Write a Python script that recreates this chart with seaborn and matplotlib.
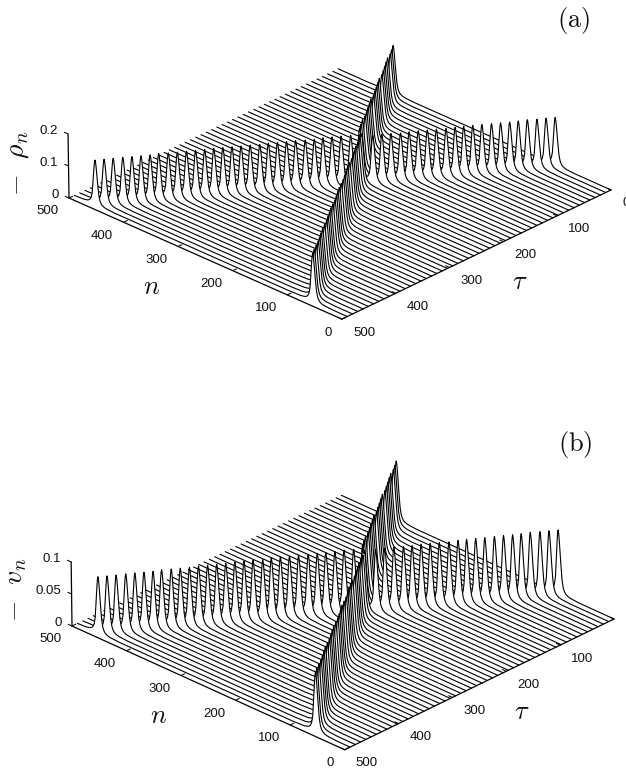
import numpy as np
import pandas as pd
import seaborn as sns
import matplotlib
matplotlib.use("Agg")
import matplotlib.pyplot as plt
from mpl_toolkits.mplot3d import proj3d
from mpl_toolkits.mplot3d.art3d import Poly3DCollection

# ---- values ----
tau_values = [0, 9.8, 19.6, 29.4, 39.2, 49, 58.8, 68.6, 78.4, 88.2, 98, 107.8, 117.6, 127.4,
              137.2, 147, 156.8, 166.6, 176.4, 186.2, 196, 205.8, 215.6, 225.4, 235.2, 245,
              254.8, 264.6, 274.4, 284.2, 294, 303.8, 313.6, 323.4, 333.2, 343, 352.8, 362.6,
              372.4, 382.2, 392, 401.8, 411.6, 421.4, 431.2, 441, 450.8, 460.6, 470.4, 480.2,
              490]
rising_centre = [101, 108, 115, 123, 130, 136, 143, 150, 158, 165, 172, 178, 185, 193, 200,
                 207, 214, 220, 228, 235, 242, 256, 263, 271, 278, 285, 291, 298, 306, 313,
                 320, 327, 333, 341, 348, 355, 362, 369, 376, 383, 390, 397, 404, 412, 418,
                 425, 432, 439, 447, 454, 461]
falling_centre = [398, 391, 384, 379, 372, 365, 358, 351, 346, 339, 332, 325, 318, 313, 306,
                  299, 292, 285, 280, 273, 266, 253, 246, 240, 234, 227, 220, 213, 207, 201,
                  194, 187, 180, 174, 168, 161, 154, 147, 141, 135, 128, 121, 114, 108, 102,
                  95, 88, 81, 75, 69, 62]
pulse_offset = [-40, -22, -16, -12, -10, -8, -6, -5, -4, -3, -2, -1, 0,
                1, 2, 3, 4, 5, 6, 8, 10, 12, 16, 22, 40]
pulse_shape = [0.0, 0.01, 0.025, 0.05, 0.08, 0.13, 0.25, 0.38, 0.52, 0.68, 0.83, 0.95, 1.0,
               0.95, 0.83, 0.68, 0.52, 0.38, 0.25, 0.13, 0.08, 0.05, 0.025, 0.01, 0.0]
rho_peak_falling = 0.150
rho_peak_rising = [0.150, 0.150, 0.150, 0.150, 0.149, 0.149, 0.149, 0.149, 0.148, 0.148, 0.148,
                   0.148, 0.147, 0.147, 0.147, 0.147, 0.146, 0.146, 0.146, 0.146, 0.145, 0.145,
                   0.145, 0.145, 0.145, 0.145, 0.144, 0.144, 0.144, 0.144, 0.144, 0.144, 0.143,
                   0.143, 0.143, 0.143, 0.143, 0.143, 0.142, 0.142, 0.142, 0.142, 0.142, 0.142,
                   0.141, 0.141, 0.141, 0.141, 0.140, 0.140, 0.140]
v_peak_falling = 0.093
v_peak_rising = [0.100, 0.100, 0.100, 0.100, 0.099, 0.099, 0.099, 0.099, 0.098, 0.098, 0.098,
                 0.098, 0.097, 0.097, 0.097, 0.097, 0.096, 0.096, 0.096, 0.096, 0.095, 0.095,
                 0.095, 0.095, 0.094, 0.094, 0.094, 0.094, 0.093, 0.093, 0.093, 0.093, 0.092,
                 0.092, 0.092, 0.092, 0.091, 0.091, 0.091, 0.091, 0.090, 0.090, 0.090, 0.090,
                 0.089, 0.089, 0.089, 0.089, 0.088, 0.088, 0.088]
n_ticks = [0, 100, 200, 300, 400, 500]
tau_ticks = [0, 100, 200, 300, 400, 500]
rho_ticks = [0, 0.1, 0.2]
rho_tick_labels = ["0", "0.1", "0.2"]
v_ticks = [0, 0.05, 0.1]
v_tick_labels = ["0", "0.05", "0.1"]

# ---- style ----
sns.set_theme(style="white")
plt.rcParams["font.family"] = ["Liberation Sans", "DejaVu Sans"]
plt.rcParams["mathtext.fontset"] = "cm"
W, H = 626, 770
fig = plt.figure(figsize=(W / 100, H / 100), dpi=100, facecolor="white")
INK = "#111111"


def slices(peak_rise, peak_fall):
    n = np.arange(0, 501)
    rows = []
    for i, t in enumerate(tau_values):
        a = np.interp(n, np.array(pulse_offset) + rising_centre[i], pulse_shape) * peak_rise[i]
        b = np.interp(n, np.array(pulse_offset) + falling_centre[i], pulse_shape) * peak_fall
        rows.append(pd.DataFrame({"n": n, "tau": t, "z": np.maximum(a, b)}))
    return pd.concat(rows)


def corner_px(ax, x, y, z):
    xs, ys, _ = proj3d.proj_transform(x, y, z, ax.get_proj())
    return ax.transData.transform((xs, ys))


def panel(table, zmax, zticks, zlabels, elev, roll, zpx, left_px, right_px, nlab, taulab, zlab,
          tag, tag_xy):
    ax = fig.add_axes([0, 0, 626 / W, 626 / H], projection="3d", proj_type="ortho",
                      computed_zorder=False)
    ax.patch.set_visible(False)
    ax.view_init(elev=elev, azim=135, roll=roll)
    ax.set_xlim(0, 500)
    ax.set_ylim(0, 500)
    ax.set_zlim(0, zmax)
    aspect = (1, 1, zpx / np.cos(np.radians(elev)) / (542 / np.sqrt(2)))
    ax.set_box_aspect(aspect, zoom=1)
    ax.grid(False)
    for axis in (ax.xaxis, ax.yaxis, ax.zaxis):
        axis.pane.set_visible(False)
        axis.line.set_color("black")
        axis.line.set_linewidth(0.9)
        axis._axinfo["axisline"]["color"] = "black"
        axis._axinfo["axisline"]["linewidth"] = 0.9
        axis._axinfo["tick"]["inward_factor"] = 0.0
        axis._axinfo["tick"]["outward_factor"] = 0.17
        axis._axinfo["tick"]["linewidth"] = {True: 0.8, False: 0.5}
        axis._axinfo["tick"]["color"] = INK
    ax.zaxis.set_ticks_position("upper")
    ax.zaxis._get_tickdir = lambda position: 0
    ax.set_xticks(n_ticks)
    ax.set_yticks(tau_ticks)
    ax.set_zticks(zticks)
    ax.set_zticklabels(zlabels)
    ax.tick_params(axis="x", labelsize=9.5, colors=INK, pad=1)
    ax.tick_params(axis="y", labelsize=9.5, colors=INK, pad=1.5)
    ax.tick_params(axis="z", labelsize=9.5, colors=INK, pad=-3.5)
    for lab in ax.get_xticklabels():
        lab.set_ha("right")
    for lab in ax.get_yticklabels():
        lab.set_ha("left")
        lab.set_va("top")
    for lab in ax.get_zticklabels():
        lab.set_ha("right")
        lab.set_va("baseline")

    for k, (t, g) in enumerate(table.groupby("tau", sort=True)):
        xs, zs = g["n"].to_numpy(), g["z"].to_numpy()
        verts = [list(zip(xs, [t] * len(xs), zs)) + [(500, t, 0), (0, t, 0)]]
        ax.add_collection3d(Poly3DCollection(verts, facecolors="white", edgecolors="none",
                                             zorder=10 + 2 * k, shade=False))
        ax.plot(xs, [t] * len(xs), zs, color="black", lw=0.8, zorder=11 + 2 * k,
                solid_joinstyle="round")

    # fit the box onto the target corners
    ax.apply_aspect()
    p0 = corner_px(ax, 500, 500, 0)
    p1 = corner_px(ax, 0, 0, 0)
    zoom = (right_px[0] - left_px[0]) / (p1[0] - p0[0])
    ax.set_box_aspect(aspect, zoom=zoom)
    ax.apply_aspect()
    p0 = corner_px(ax, 500, 500, 0)
    dx = left_px[0] - p0[0]
    dy = (H - left_px[1]) - p0[1]
    pos = ax.get_position()
    ax.set_position([pos.x0 + dx / W, pos.y0 + dy / H, pos.width, pos.height])

    ax.text2D(nlab[0] / W, 1 - nlab[1] / H, "$n$", transform=fig.transFigure, fontsize=19,
              ha="center", va="center", color=INK)
    ax.text2D(taulab[0] / W, 1 - taulab[1] / H, r"$\tau$", transform=fig.transFigure,
              fontsize=19, ha="center", va="center", color=INK)
    ax.text2D(zlab[0] / W, 1 - zlab[1] / H, zlab[2], transform=fig.transFigure, fontsize=20,
              rotation=90, ha="center", va="center", color=INK)
    ax.text2D(tag_xy[0] / W, 1 - tag_xy[1] / H, tag, transform=fig.transFigure, fontsize=19,
              ha="center", va="center", color=INK)
    return ax


rho_table = slices(rho_peak_rising, rho_peak_falling)
v_table = slices(v_peak_rising, v_peak_falling)

panel(rho_table, 0.2, rho_ticks, rho_tick_labels, 27.5, 0.85, 64, (69, 198), (611, 190),
      (152, 287), (520, 282), (18, 163, r"$-\ \ \rho_n$"), r"$\mathrm{(a)}$", (574, 20))
panel(v_table, 0.1, v_ticks, v_tick_labels, 28, 0.74, 64, (72, 626), (614, 619),
      (159, 716), (522, 712), (16, 590, r"$-\ \ v_n$"), r"$\mathrm{(b)}$", (575, 445))

fig.savefig("out.png", dpi=100, facecolor="white")
